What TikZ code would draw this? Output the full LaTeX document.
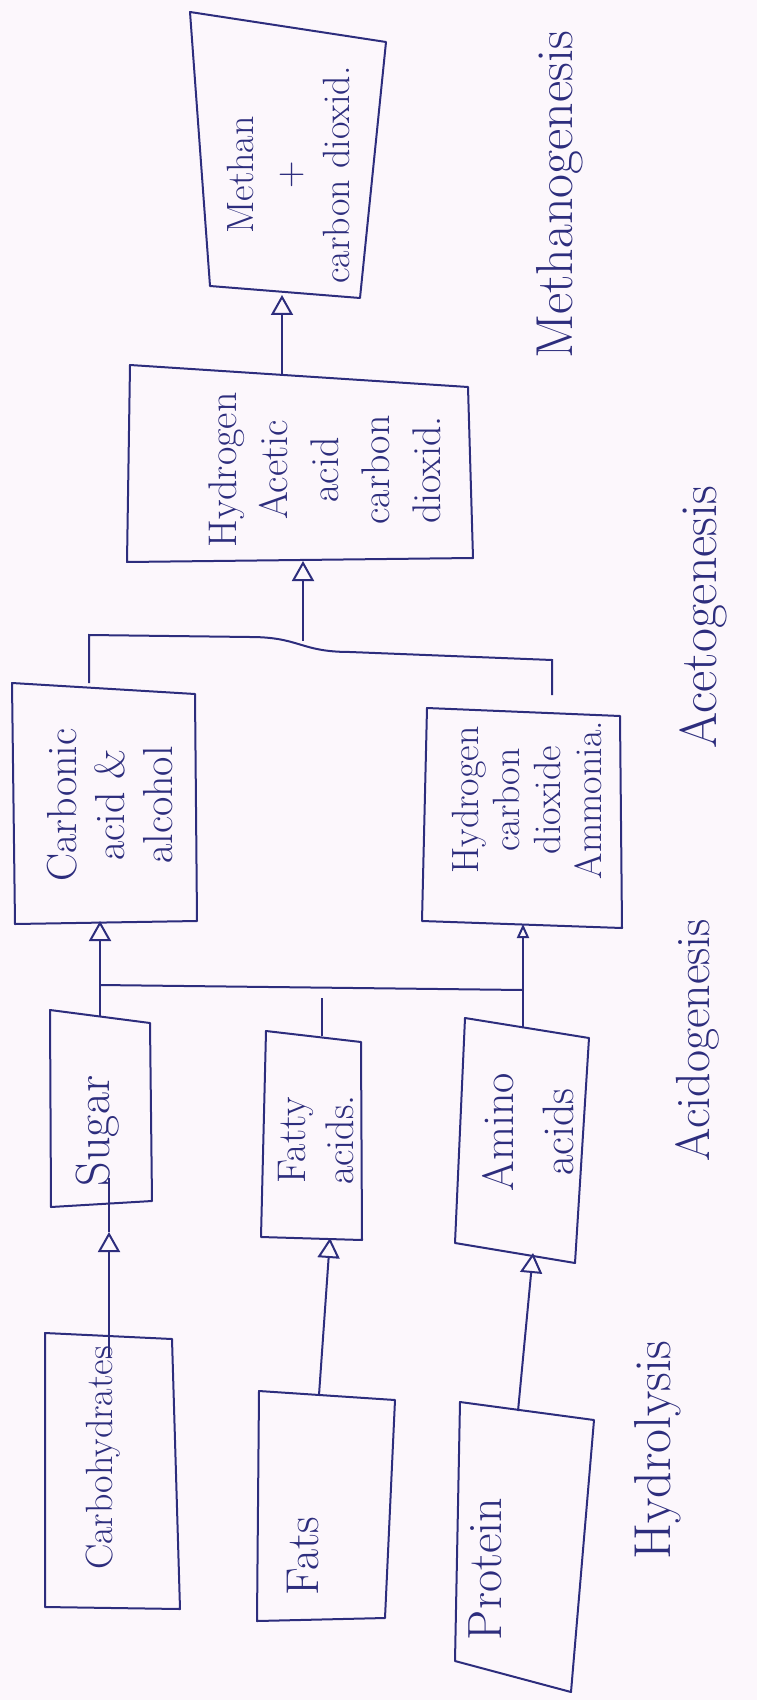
\documentclass[tikz,border=0pt]{standalone}
\usetikzlibrary{arrows.meta}
\definecolor{ink}{RGB}{45,45,125}
\definecolor{paper}{RGB}{252,247,252}
\begin{document}
\begin{tikzpicture}[x=0.5pt,y=-0.5pt,
  box/.style={draw=none, inner sep=0pt, outer sep=0pt, rectangle},
  outline/.style={draw=ink, line width=1pt, line join=round},
  txt/.style={rotate=90, text=ink, align=center, inner sep=0pt},
  lbl/.style={rotate=90, text=ink, inner sep=0pt},
  conn/.style={draw=ink, line width=1pt},
  arr/.style={conn, -{Triangle[open, width=11pt, length=10pt]}},
  arrsmall/.style={conn, -{Triangle[open, width=6pt, length=7pt]}},
]
\fill[paper] (0,0) rectangle (757,1700);
\useasboundingbox (0,0) rectangle (757,1700);

% boxes (named nodes, outlines drawn hand-skewed)
\node[box, minimum width=85.5pt, minimum height=134pt] (meth) at (286.5,161) {};
\node[box, minimum width=169pt, minimum height=92.5pt] (hac) at (299,468.5) {};
\node[box, minimum width=91.5pt, minimum height=119pt] (carb) at (103.5,802) {};
\node[box, minimum width=96.5pt, minimum height=106.5pt] (ham) at (522.5,817.5) {};
\node[box, minimum width=50pt, minimum height=94.5pt] (sugar) at (100,1110.5) {};
\node[box, minimum width=47.5pt, minimum height=101pt] (fatty) at (313.5,1137) {};
\node[box, minimum width=64pt, minimum height=112.5pt] (amino) at (524,1140.5) {};
\node[box, minimum width=63.5pt, minimum height=136pt] (carbo) at (108.5,1472) {};
\node[box, minimum width=68pt, minimum height=113pt] (fats) at (327,1508) {};
\node[box, minimum width=67pt, minimum height=132.5pt] (protein) at (527,1543.5) {};

\draw[outline] (190,12) -- (386,42) -- (360,298) -- (210,286) -- cycle;
\draw[outline] (130,365) -- (468,387) -- (473,558) -- (127,562) -- cycle;
\draw[outline] (12,683) -- (195,694) -- (197,921) -- (15,924) -- cycle;
\draw[outline] (427,708) -- (620,716) -- (622,928) -- (422,921) -- cycle;
\draw[outline] (50,1010) -- (150,1023) -- (152,1201) -- (51,1207) -- cycle;
\draw[outline] (266,1031) -- (361,1042) -- (362,1240) -- (261,1237) -- cycle;
\draw[outline] (465,1018) -- (589,1038) -- (575,1263) -- (455,1243) -- cycle;
\draw[outline] (45,1333) -- (172,1339) -- (180,1609) -- (45,1607) -- cycle;
\draw[outline] (259,1391) -- (395,1400) -- (385,1618) -- (257,1621) -- cycle;
\draw[outline] (460,1402) -- (594,1420) -- (571,1692) -- (455,1661) -- cycle;

% box texts
\node[txt, font=\fontsize{19}{24}\selectfont] (tmeth) at (288,175) {Methan\\+\\carbon dioxid.};
\node[txt, font=\fontsize{20}{25.5}\selectfont] (thac) at (325,470) {Hydrogen\\Acetic\\acid\\carbon\\dioxid.};
\node[txt, font=\fontsize{21}{24}\selectfont] (tcarb) at (110,805) {Carbonic\\acid \&\\alcohol};
\node[txt, font=\fontsize{19}{20.5}\selectfont] (tham) at (527,800) {Hydrogen\\carbon\\dioxide\\Ammonia.};
\node[txt, font=\fontsize{24}{28}\selectfont] (tsugar) at (98,1131) {Sugar};
\node[txt, font=\fontsize{20}{24}\selectfont] (tfatty) at (316,1140) {Fatty\\acids.};
\node[txt, font=\fontsize{22}{30}\selectfont] (tamino) at (528,1132) {Amino\\acids};
\node[txt, font=\fontsize{19}{23}\selectfont] (tcarbo) at (103,1458) {Carbohydrates};
\node[txt, font=\fontsize{23}{27}\selectfont] (tfats) at (303,1556) {Fats};
\node[txt, font=\fontsize{24}{28}\selectfont] (tprotein) at (485,1569) {Protein};

% stage labels
\node[lbl, font=\fontsize{26}{30}\selectfont] (lmeth) at (560,195) {Methanogenesis};
\node[lbl, font=\fontsize{26}{30}\selectfont] (lacet) at (703,617) {Acetogenesis};
\node[lbl, font=\fontsize{24}{28}\selectfont] (lacid) at (697,1040) {Acidogenesis};
\node[lbl, font=\fontsize{26}{30}\selectfont] (lhyd) at (658,1450) {Hydrolysis};

% methanogenesis arrow
\coordinate (m0) at (282,0);
\draw[arr] (hac.north -| m0) -- (meth.south -| m0);

% acetogenesis bracket
\coordinate (b1) at (89,635);
\coordinate (b2) at (250,637);
\coordinate (b3) at (350,652);
\coordinate (b4) at (552,660);
\coordinate (b5) at (552,695);
\draw[conn] (carb.north -| b1) -- (b1) -- (b2) .. controls (300,637) and (300,652) .. (b3) -- (b4) -- (b5);
\coordinate (a0) at (303,641);
\draw[arr] (a0) -- (hac.south -| a0);

% acidogenesis connectors
\coordinate (h1) at (100,985);
\coordinate (h2) at (523,990);
\draw[conn] (h1) -- (h2);
\draw[arr] (sugar.north -| h1) -- (carb.south -| h1);
\coordinate (f0) at (322,998);
\draw[conn] (f0) -- (fatty.north -| f0);
\draw[arrsmall] (amino.north -| h2) -- (ham.south -| h2);

% hydrolysis arrows
\coordinate (c0) at (109,1232);
\coordinate (cs) at (109,1178);
\coordinate (cc) at (109,1357);
\draw[arr] (carbo.north -| c0) -- (c0);
\draw[conn] (c0) -- (sugar.south -| c0) -- (cs);
\draw[conn] (cc) -- (carbo.north -| c0);
\coordinate (fa) at (319,0);
\coordinate (fb) at (330,0);
\draw[arr] (fats.north -| fa) -- (fatty.south -| fb);
\coordinate (pa) at (518,0);
\coordinate (pb) at (533,0);
\draw[arr] (protein.north -| pa) -- (amino.south -| pb);
\end{tikzpicture}
\end{document}
